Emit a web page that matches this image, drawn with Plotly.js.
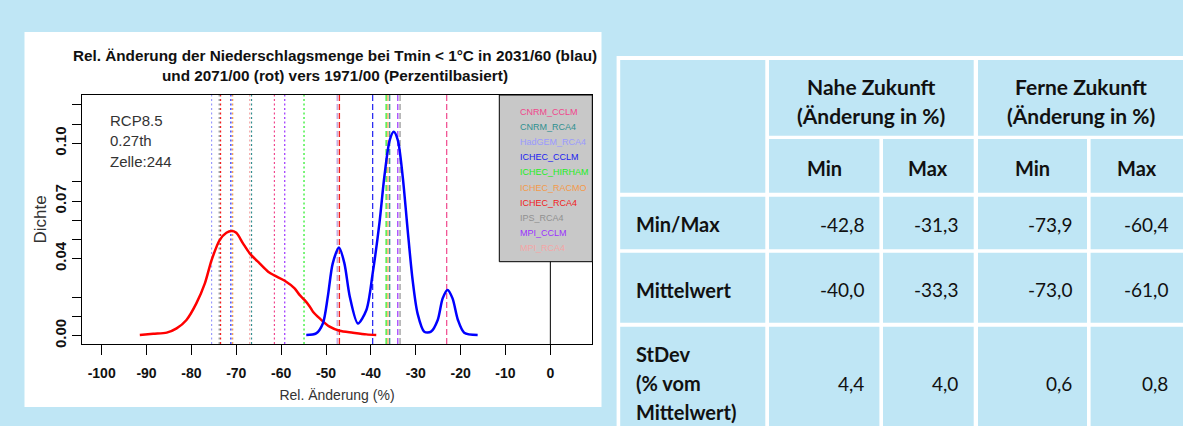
<!DOCTYPE html>
<html>
<head>
<meta charset="utf-8">
<script src="https://cdn.plot.ly/plotly-3.0.1.min.js"></script>
<style>
html,body{margin:0;padding:0;background:#bfe6f5;}
#chart{width:1183px;height:426px;}
</style>
</head>
<body>
<div id="chart"></div>
<script>
// ---------------- DATA ----------------
// Density curve 2071/00 (red)
const farX = [-91.5,-88.5,-85.5,-83.3,-81.1,-78.9,-77.0,-75.5,-73.7,-72.2,-71.1,-70.0,-68.5,-67.0,-64.8,-62.9,-61.4,-59.2,-57.0,-55.9,-54.8,-53.6,-52.9,-51.4,-49.2,-47.0,-44.0,-41.0,-38.8];
const farY = [0.0004,0.0010,0.0016,0.0038,0.0082,0.0168,0.0272,0.0393,0.0497,0.0535,0.0544,0.0535,0.0480,0.0428,0.0376,0.0333,0.0312,0.0286,0.0246,0.0212,0.0186,0.0151,0.0125,0.0090,0.0047,0.0026,0.0016,0.0007,0.0004];
// Density curve 2031/60 (blue)
const nearX = [-54.4,-52.2,-50.7,-49.6,-48.5,-47.1,-45.9,-44.7,-42.9,-41.0,-39.6,-38.1,-37.0,-35.8,-34.9,-34.0,-32.9,-31.8,-30.7,-29.6,-28.1,-26.6,-25.1,-24.0,-22.9,-21.8,-20.6,-19.2,-16.2];
const nearY = [0.0004,0.0012,0.0064,0.0203,0.0376,0.0459,0.0376,0.0203,0.0064,0.0134,0.0324,0.0584,0.0826,0.1017,0.1060,0.1017,0.0826,0.0549,0.0290,0.0116,0.0021,0.0021,0.0082,0.0194,0.0238,0.0194,0.0082,0.0016,0.0004];

// Models, colours and per-model changes
const models      = ['CNRM_CCLM','CNRM_RCA4','HadGEM_RCA4','ICHEC_CCLM','ICHEC_HIRHAM','ICHEC_RACMO','ICHEC_RCA4','IPS_RCA4','MPI_CCLM','MPI_RCA4'];
const modelColors = ['#f0468c','#2f9090','#9a9aff','#2020f0','#22ee22','#f39a4a','#f02020','#909090','#9b30ff','#f4a6a6'];
const modelFar    = [-61.5,-66.6,-75.5,-71.2,-54.9,-70.8,-73.5,-73.8,-59.2,-67.0];
const modelNear   = [-23.1,-35.8,-47.5,-39.6,-36.6,-36.2,-47.0,-33.5,-34.0,-47.3];

// Axis ticks
const xTicks = [-100,-90,-80,-70,-60,-50,-40,-30,-20,-10,0];
const yTickVals = [0,0.01,0.02,0.04,0.05,0.06,0.07,0.08,0.10,0.11,0.12];
const yTickText = ['0.00','','','0.04','','','0.07','','0.10','',''];

const infoLines = ['RCP8.5','0.27th','Zelle:244'];

// Table
const groupHeads = ['Nahe Zukunft','Ferne Zukunft'];
const groupSub   = '(Änderung in %)';
const subHeads   = ['Min','Max','Min','Max'];
const rowLabels  = [['Min/Max'],['Mittelwert'],['StDev','(% vom','Mittelwert)']];
const nearMin = [-42.8,-40.0,4.4];
const nearMax = [-31.3,-33.3,4.0];
const farMin  = [-73.9,-73.0,0.6];
const farMax  = [-60.4,-61.0,0.8];

// ---------------- LAYOUT HELPERS ----------------
const W = 1183, H = 426;
const PX = v => v / W;
const PY = v => 1 - v / H;
const BG = '#bfe6f5';
const fmt = v => v.toFixed(1).replace('.', ',');

const shapes = [];
const annotations = [];

// white panel behind chart
shapes.push({type:'rect', xref:'paper', yref:'paper', x0:PX(24.5), x1:PX(601.5), y0:PY(407), y1:PY(32),
  fillcolor:'#ffffff', line:{width:0}, layer:'below'});

// model vertical lines
models.forEach((m,i) => {
  shapes.push({type:'line', xref:'x', yref:'y domain', x0:modelFar[i], x1:modelFar[i], y0:0, y1:1,
    line:{color:modelColors[i], width:1.2, dash:'2px,2.5px'}, layer:'below'});
  shapes.push({type:'line', xref:'x', yref:'y domain', x0:modelNear[i], x1:modelNear[i], y0:0, y1:1,
    line:{color:modelColors[i], width:1.2, dash:'6px,3px'}, layer:'below'});
});
// zero line
shapes.push({type:'line', xref:'x', yref:'y domain', x0:0, x1:0, y0:0, y1:1, line:{color:'#000', width:1}, layer:'below'});
// legend box
shapes.push({type:'rect', xref:'paper', yref:'paper', x0:PX(499.3), x1:PX(592.3), y0:PY(261.7), y1:PY(95),
  fillcolor:'#c8c8c8', line:{color:'#000', width:1}, layer:'above'});
models.forEach((m,i) => {
  annotations.push({text:m, xref:'paper', yref:'paper', x:PX(517.5), y:PY(112 + i*15.1), xanchor:'left', yanchor:'middle',
    showarrow:false, font:{family:'Liberation Sans', size:9, color:modelColors[i]}});
});
infoLines.forEach((t,i) => {
  annotations.push({text:t, xref:'paper', yref:'paper', x:PX(108), y:PY(120 + i*20.8), xanchor:'left', yanchor:'middle',
    showarrow:false, font:{family:'Liberation Sans', size:15, color:'#333'}});
});

// ---------------- TABLE ----------------
shapes.push({type:'rect', xref:'paper', yref:'paper', x0:PX(616.6), x1:1.01, y0:-0.01, y1:PY(56),
  fillcolor:'#ffffff', line:{width:0}, layer:'below'});
const colL = [620.2, 769, 883, 978, 1090.6];
const colR = [765.3, 879.4, 973.7, 1087, 1190];
const rowT = [60, 139, 196.7, 252.7, 326.7];
const rowB = [135.7, 192.7, 249.3, 322.7, 440];
function cell(x0,x1,y0,y1){
  shapes.push({type:'rect', xref:'paper', yref:'paper', x0:PX(x0), x1:PX(x1), y0:PY(y1), y1:PY(y0),
    fillcolor:BG, line:{width:0}, layer:'below'});
}
cell(colL[0], colR[0], rowT[0], rowB[1]);
cell(colL[1], colR[2], rowT[0], rowB[0]);
cell(colL[3], colR[4], rowT[0], rowB[0]);
for (let c=1;c<5;c++) cell(colL[c], colR[c], rowT[1], rowB[1]);
for (let r=2;r<5;r++) for (let c=0;c<5;c++) cell(colL[c], colR[c], rowT[r], rowB[r]);

const tblHead = {family:'Lato', size:21, weight:'bold', color:'#111'};
const tblBold = {family:'Lato', size:20, weight:'bold', color:'#111'};
const tblReg  = {family:'Lato', size:19, color:'#111'};
const groupCenters = [(colL[1]+colR[2])/2, (colL[3]+1183)/2];
groupHeads.forEach((g,i) => {
  annotations.push({text:g, xref:'paper', yref:'paper', x:PX(groupCenters[i]), y:PY(87), xanchor:'center', yanchor:'middle', showarrow:false, font:tblHead});
  annotations.push({text:groupSub, xref:'paper', yref:'paper', x:PX(groupCenters[i]), y:PY(116), xanchor:'center', yanchor:'middle', showarrow:false, font:tblHead});
});
subHeads.forEach((s,i) => {
  const c = i+1;
  const cx = c===4 ? (colL[c]+1183)/2 : (colL[c]+colR[c])/2;
  annotations.push({text:s, xref:'paper', yref:'paper', x:PX(cx), y:PY(168), xanchor:'center', yanchor:'middle', showarrow:false, font:tblBold});
});
const rowCenters = [224, 289.5, 383];
rowLabels.forEach((lines,r) => {
  const n = lines.length;
  lines.forEach((t,k) => {
    const y = rowCenters[r] + (k - (n-1)/2) * 29;
    annotations.push({text:t, xref:'paper', yref:'paper', x:PX(633.8), y:PY(y), xanchor:'left', yanchor:'middle', showarrow:false, font:tblBold});
  });
});
const valueCols = [nearMin, nearMax, farMin, farMax];
const rightEdges = [865.8, 959.5, 1074, 1169.5];
valueCols.forEach((col,c) => {
  col.forEach((v,r) => {
    annotations.push({text:fmt(v), xref:'paper', yref:'paper', x:PX(rightEdges[c]), y:PY(rowCenters[r]), xanchor:'right', yanchor:'middle', showarrow:false, font:tblReg});
  });
});

// ---------------- TRACES ----------------
const traces = [
  {type:'scatter', mode:'lines', x:farX, y:farY, line:{color:'#ff0000', width:2.5, shape:'spline', smoothing:0.8}, showlegend:false, hoverinfo:'skip'},
  {type:'scatter', mode:'lines', x:nearX, y:nearY, line:{color:'#0000ff', width:2.5, shape:'spline', smoothing:0.8}, showlegend:false, hoverinfo:'skip'}
];

const layout = {
  width:W, height:H,
  margin:{l:0, r:0, t:0, b:0},
  paper_bgcolor:BG, plot_bgcolor:'#ffffff',
  showlegend:false,
  title:{text:'Rel. Änderung der Niederschlagsmenge bei Tmin &lt; 1°C in 2031/60 (blau)<br>und 2071/00 (rot) vers 1971/00 (Perzentilbasiert)',
    font:{family:'Liberation Sans', size:15.3, weight:'bold', color:'#111'},
    xref:'paper', yref:'paper', x:PX(335), xanchor:'center', y:PY(61), yanchor:'top'},
  xaxis:{domain:[PX(81.7), PX(592.3)], range:[-104.45, 9.35], tickvals:xTicks, ticktext:xTicks.map(String),
    ticks:'outside', ticklen:10, tickwidth:1, tickcolor:'#000', showgrid:false, zeroline:false,
    showline:true, mirror:true, linecolor:'#000', linewidth:1, ticklabelstandoff:6,
    tickfont:{family:'Liberation Sans', size:14, weight:'bold', color:'#111'},
    title:{text:'Rel. Änderung (%)', font:{family:'Liberation Sans', size:14, color:'#333'}, standoff:10}},
  yaxis:{domain:[PY(344), PY(95)], range:[-0.0043, 0.1251], tickvals:yTickVals, ticktext:yTickText,
    ticks:'outside', ticklen:9, tickwidth:1, tickcolor:'#000', showgrid:false, zeroline:false,
    showline:true, mirror:true, linecolor:'#000', linewidth:1, tickangle:-90,
    tickfont:{family:'Liberation Sans', size:15, weight:'bold', color:'#111'},
    title:{text:'Dichte', font:{family:'Liberation Sans', size:17, color:'#333'}, standoff:0}},
  shapes:shapes,
  annotations:annotations
};

Plotly.newPlot('chart', traces, layout, {staticPlot:true, displayModeBar:false});
</script>
</body>
</html>
